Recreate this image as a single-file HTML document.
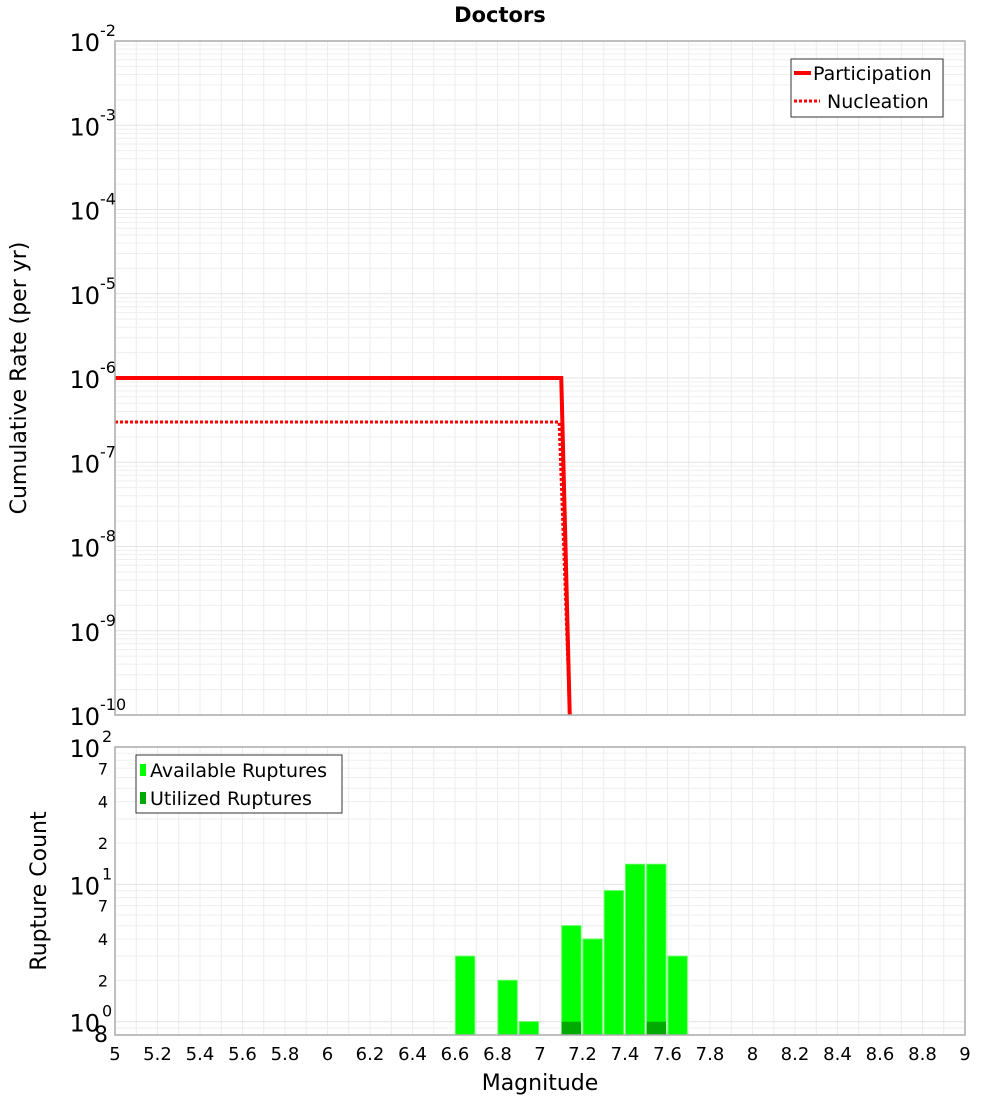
<!DOCTYPE html>
<html><head><meta charset="utf-8"><style>
body{margin:0;background:#fff;font-family:"Liberation Sans","DejaVu Sans",sans-serif}
svg text{font-family:"DejaVu Sans","Liberation Sans",sans-serif}
</style></head><body>
<svg id="c" width="1000" height="1100" xmlns="http://www.w3.org/2000/svg"></svg>
<script>
const xTicks=[5,5.2,5.4,5.6,5.8,6,6.2,6.4,6.6,6.8,7,7.2,7.4,7.6,7.8,8,8.2,8.4,8.6,8.8,9];
const partMag=[5,7.1,7.14];
const partRate=[1e-6,1e-6,1e-10];
const nuclMag=[5,7.09,7.14];
const nuclRate=[3e-7,3e-7,1e-10];
const binStarts=[6.6,6.8,6.9,7.1,7.2,7.3,7.4,7.5,7.6];
const availCounts=[3,2,1,5,4,9,14,14,3];
const utilBins=[7.1,7.5];
const utilCounts=[1,1];
const topExps=[-2,-3,-4,-5,-6,-7,-8,-9,-10];

const svg=document.getElementById('c');const NS='http://www.w3.org/2000/svg';
function el(t,a,txt){const e=document.createElementNS(NS,t);for(const k in a)e.setAttribute(k,a[k]);if(txt!==undefined)e.textContent=txt;svg.appendChild(e);return e;}
const X0=115,X1=965;const x=v=>X0+(v-5)/4*(X1-X0);
const T0=41,T1=715;const yT=v=>T0+(-2-Math.log10(v))/8*(T1-T0);
const B0=747,B1=1035;const yB=v=>B0+(2-Math.log10(v))/(2-Math.log10(0.8))*(B1-B0);

// title
let t=el('text',{x:500,y:22,'text-anchor':'middle','font-size':21,'font-weight':'bold'},'Doctors');


// grids
for(let v=5;v<=9.001;v+=0.1){
 let g=el('line',{x1:x(v),x2:x(v),y1:T0,y2:T1,stroke:'#ececec','stroke-width':1});
 let g2=el('line',{x1:x(v),x2:x(v),y1:B0,y2:B1,stroke:'#ececec','stroke-width':1});
}
for(let e=-10;e<-2;e++)for(let m=1;m<10;m++){const v=m*Math.pow(10,e);
 let g=el('line',{x1:X0,x2:X1,y1:yT(v),y2:yT(v),stroke:m==1?'#e4e4e4':'#efefef','stroke-width':1});}
for(let e=-1;e<2;e++)for(let m=1;m<10;m++){const v=m*Math.pow(10,e);if(v<0.8)continue;
 let g=el('line',{x1:X0,x2:X1,y1:yB(v),y2:yB(v),stroke:m==1?'#e4e4e4':'#efefef','stroke-width':1});}

// top lines
function path(ms,rs,yf){return ms.map((m,i)=>(i?'L':'M')+x(m)+','+yf(rs[i])).join(' ');}
let p=el('path',{d:path(partMag,partRate,yT),fill:'none',stroke:'#f00','stroke-width':4});
let n=el('path',{d:path(nuclMag,nuclRate,yT),fill:'none',stroke:'#f00','stroke-width':3,'stroke-dasharray':'3,2'});

// bars
binStarts.forEach((b,i)=>{let r=el('rect',{x:x(b)+0.5,y:yB(availCounts[i]),width:x(b+0.1)-x(b)-2,height:B1-yB(availCounts[i]),fill:'#00ff00',stroke:'#55ff55','stroke-width':1});
 });
utilBins.forEach((b,i)=>{let r=el('rect',{x:x(b)+0.5,y:yB(utilCounts[i]),width:x(b+0.1)-x(b)-2,height:B1-yB(utilCounts[i]),fill:'#00aa00'});
 });

// frames
let f1=el('rect',{x:X0,y:T0,width:X1-X0,height:T1-T0,fill:'none',stroke:'#aaa','stroke-width':1.5});
let f2=el('rect',{x:X0,y:B0,width:X1-X0,height:B1-B0,fill:'none',stroke:'#aaa','stroke-width':1.5});

// top y tick labels
topExps.forEach(e=>{const yy=yT(Math.pow(10,e));
 let a=el('text',{x:100,y:yy+10,'text-anchor':'end','font-size':24},'10');
 let b=el('text',{x:100,y:yy-5,'text-anchor':'start','font-size':16},String(e));});
// bottom y tick labels
[[100,'2'],[10,'1'],[1,'0']].forEach(([v,e])=>{const yy=yB(v);
 let a=el('text',{x:100,y:yy+10,'text-anchor':'end','font-size':24},'10');
 let b=el('text',{x:102,y:yy-5,'font-size':16},e);});
[70,40,20,7,4,2].forEach(v=>{let a=el('text',{x:108,y:yB(v)+6,'text-anchor':'end','font-size':16},String(v).charAt(0));});
let e8=el('text',{x:108,y:1042,'text-anchor':'end','font-size':22},'8');

// x tick labels
xTicks.forEach(v=>{let a=el('text',{x:x(v),y:1060,'text-anchor':'middle','font-size':18},String(v));});

// axis titles
let xt=el('text',{x:540,y:1090,'text-anchor':'middle','font-size':22},'Magnitude');
let yt1=el('text',{x:0,y:0,'text-anchor':'middle','font-size':22,transform:'translate(26,378) rotate(-90)'},'Cumulative Rate (per yr)');
let yt2=el('text',{x:0,y:0,'text-anchor':'middle','font-size':22,transform:'translate(46,891) rotate(-90)'},'Rupture Count');

// legends
let l1=el('rect',{x:791,y:59,width:152,height:58,fill:'#fff',stroke:'#333','stroke-width':1});
let ll1=el('line',{x1:794,x2:811,y1:73,y2:73,stroke:'#f00','stroke-width':4});
let lt1=el('text',{x:813,y:80,'font-size':19},'Participation');
let ll2=el('line',{x1:794,x2:820,y1:101,y2:101,stroke:'#f00','stroke-width':3,'stroke-dasharray':'3,2'});
let lt2=el('text',{x:827,y:108,'font-size':19},'Nucleation');

let l2=el('rect',{x:136,y:755,width:206,height:58,fill:'#fff',stroke:'#333','stroke-width':1});
let s1=el('rect',{x:140,y:764,width:6,height:12,fill:'#00ff00'});
let bt1=el('text',{x:150,y:777,'font-size':19},'Available Ruptures');
let s2=el('rect',{x:140,y:792,width:6,height:12,fill:'#00aa00'});
let bt2=el('text',{x:150,y:805,'font-size':19},'Utilized Ruptures');
</script>
</body></html>
